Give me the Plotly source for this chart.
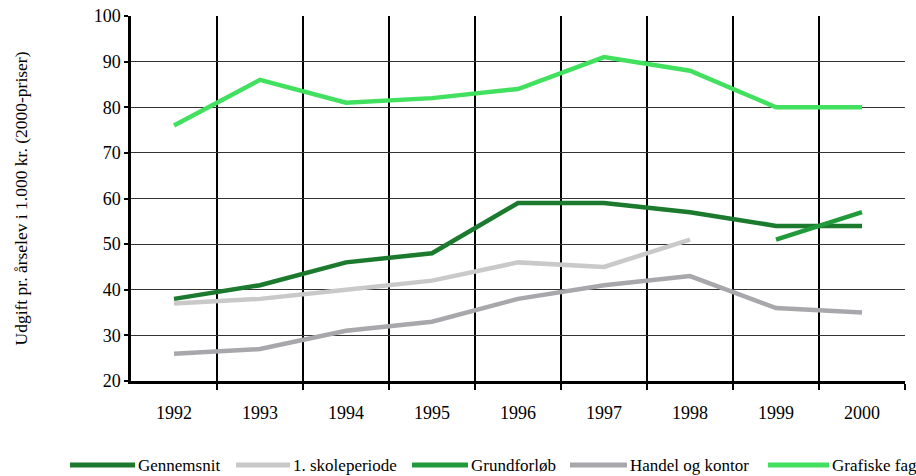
import plotly.graph_objects as go

years = [1992, 1993, 1994, 1995, 1996, 1997, 1998, 1999, 2000]
gennemsnit = [38, 41, 46, 48, 59, 59, 57, 54, 54]
skoleperiode = [37, 38, 40, 42, 46, 45, 51, None, None]
grundforloeb = [None, None, None, None, None, None, None, 51, 57]
handel = [26, 27, 31, 33, 38, 41, 43, 36, 35]
grafiske = [76, 86, 81, 82, 84, 91, 88, 80, 80]

series = [
    ("Gennemsnit", gennemsnit, "#1b7a2d"),
    ("1. skoleperiode", skoleperiode, "#c9c9c9"),
    ("Grundforløb", grundforloeb, "#209a3a"),
    ("Handel og kontor", handel, "#a8a8ac"),
    ("Grafiske fag", grafiske, "#41e05f"),
]

# legend layout (pixel positions of each key's line start / end)
legend_line_px = [(70, 135), (236, 290), (412, 468), (570, 627), (768, 829)]
legend_y_px = 465

W, H = 916, 476
ML, MR, MT, MB = 131, 11, 16, 95
PW, PH = W - ML - MR, H - MT - MB


def px_to_paper_x(px):
    return (px - ML) / PW


def px_to_paper_y(py):
    return (H - MB - py) / PH


font = "Liberation Serif"

fig = go.Figure()
for name, vals, col in series:
    fig.add_trace(go.Scatter(x=years, y=vals, name=name, mode="lines",
                             line=dict(color=col, width=4.5), connectgaps=False,
                             showlegend=False))

ly = px_to_paper_y(legend_y_px)
for (name, _, col), (x0, x1) in zip(series, legend_line_px):
    fig.add_shape(type="line", xref="paper", yref="paper",
                  x0=px_to_paper_x(x0), x1=px_to_paper_x(x1), y0=ly, y1=ly,
                  line=dict(color=col, width=5))
    fig.add_annotation(text=name, xref="paper", yref="paper",
                       x=px_to_paper_x(x1 + 1), y=ly, xanchor="left", yanchor="middle",
                       showarrow=False, font=dict(family=font, size=17, color="black"))

bounds = [y + 0.5 for y in years]

fig.update_layout(
    width=W, height=H,
    margin=dict(l=ML, r=MR, t=MT, b=MB),
    plot_bgcolor="white", paper_bgcolor="white",
    font=dict(family=font, size=18, color="black"),
    showlegend=False,
    xaxis=dict(range=[1991.5, 2000.5], tickvals=years, ticktext=[str(y) for y in years],
               showgrid=False, ticks="", showline=True, linecolor="black", linewidth=2.5,
               zeroline=False, ticklabelstandoff=14, automargin=False,
               tickfont=dict(family=font, size=18),
               minor=dict(tickvals=bounds, showgrid=True, gridcolor="black", gridwidth=1.5,
                          ticks="outside", ticklen=6, tickcolor="black", tickwidth=2)),
    yaxis=dict(range=[20, 100], dtick=10, showgrid=True, gridcolor="#333333", gridwidth=1.2,
               showline=True, linecolor="black", linewidth=2.5, ticks="outside",
               ticklen=4, tickcolor="black", tickwidth=2, zeroline=False, automargin=False,
               tickfont=dict(family=font, size=18),
               title=dict(text="Udgift pr. årselev i 1.000 kr. (2000-priser)",
                          font=dict(family=font, size=17.5), standoff=62)),
)

fig.write_html("out.html", post_script="document.body.style.margin='0';",
               config={"displayModeBar": False})
